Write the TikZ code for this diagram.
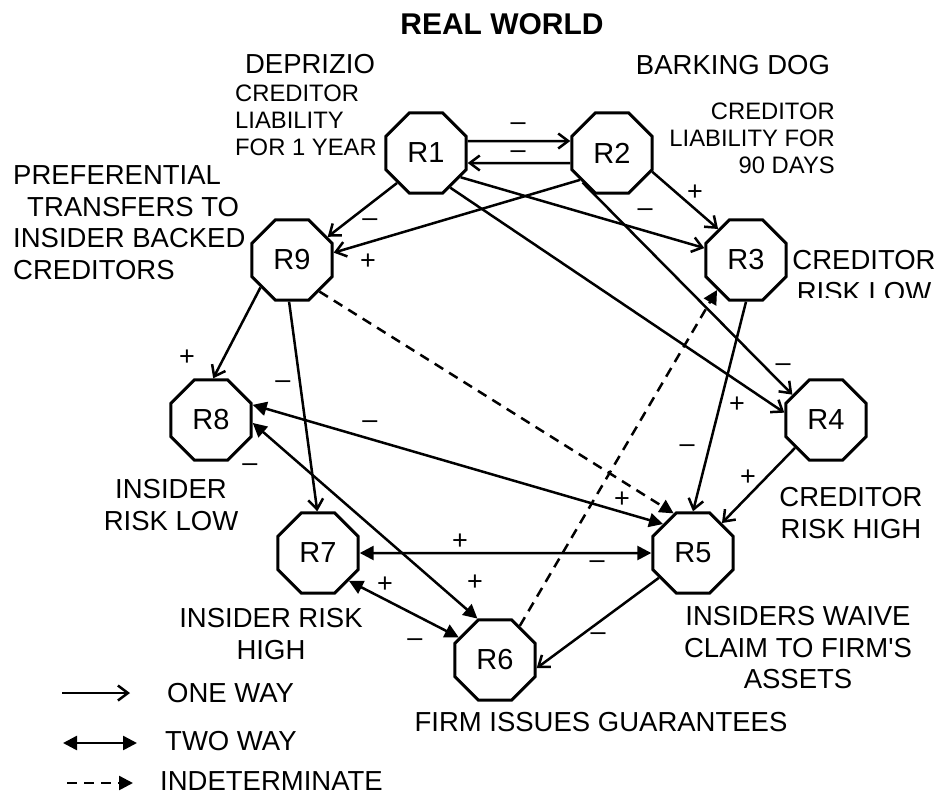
\documentclass[tikz,border=0pt]{standalone}
\usepackage{fontspec}
\setmainfont{Liberation Sans}
\usetikzlibrary{shapes.geometric,arrows.meta}
\begin{document}
\begin{tikzpicture}[x=1pt,y=-1pt,
  oct/.style={regular polygon,regular polygon sides=8,draw,line width=3pt,
    minimum size=87pt,inner sep=0pt,fill=white,font=\fontsize{29}{32}\selectfont},
  onew/.style={line width=2.5pt,-{Straight Barb[length=10pt,width=15pt]}},
  twow/.style={line width=2.5pt,{Triangle[length=14pt,width=14pt]}-{Triangle[length=14pt,width=14pt]}},
  indet/.style={line width=2.5pt,dash pattern=on 10pt off 7pt,-{Triangle[length=14pt,width=14pt]}},
  lbl/.style={font=\fontsize{27}{30}\selectfont,inner sep=0pt},
  big/.style={font=\fontsize{27.5}{31.5}\selectfont,inner sep=0pt},
  small/.style={font=\fontsize{23.8}{27}\selectfont,inner sep=0pt}
]
\useasboundingbox (0,0) rectangle (941,795);

% nodes
\node[oct] (R1) at (426,153) {R1};
\node[oct] (R2) at (612,153) {R2};
\node[oct] (R9) at (292,260) {R9};
\node[oct] (R3) at (746,260) {R3};
\node[oct] (R8) at (211,420) {R8};
\node[oct] (R4) at (826,420) {R4};
\node[oct] (R7) at (318,553) {R7};
\node[oct] (R5) at (693,553) {R5};
\node[oct] (R6) at (495,660) {R6};

% connectors
\draw[onew] ([yshift=12pt]R1.east) -- ([yshift=12pt]R2.west);
\draw[onew] ([yshift=-10pt]R2.west) -- ([yshift=-10pt]R1.east);
\draw[onew] (R1.226) -- (R9.33);
\draw[onew] (R2.220) -- (R9.10);
\draw[onew] (R1.-35) -- (R3.164);
\draw[onew] (R2.-25) -- (R3.132);
\draw[onew] (R1.-55) -- (R4.170);
\draw[onew] (R2.225) -- (R4.143);
\draw[onew] (R9.221) -- (R8.87);
\draw[onew] (R9.266) -- (R7.91);
\draw[indet] (R9.-49) -- (R5.116);
\draw[indet] (R6.54) -- (R3.226);
\draw[twow] (R8.20) -- (R5.136);
\draw[twow] (R8.-4) -- (R6.113);
\draw[twow] (R7.east) -- (R5.west);
\draw[twow] (R7.-42) -- (R6.148);
\draw[onew] (R5.216) -- (R6.-11);
\draw[onew] (R4.222) -- (R5.46);
\draw[onew] (R3.270) -- (R5.90);

% signs
\node[lbl] (s1) at (518,127) {\textendash};
\node[lbl] (s2) at (518,155) {\textendash};
\node[lbl] (s3) at (370,223) {\textendash};
\node[lbl] (s4) at (368,262) {+};
\node[lbl] (s5) at (645,213) {\textendash};
\node[lbl] (s6) at (695,193) {+};
\node[lbl] (s7) at (783,368) {\textendash};
\node[lbl] (s8) at (737,405) {+};
\node[lbl] (s9) at (687,449) {\textendash};
\node[lbl] (s10) at (748,478) {+};
\node[lbl] (s11) at (622,500) {+};
\node[lbl] (s12) at (187,358) {+};
\node[lbl] (s13) at (283,385) {\textendash};
\node[lbl] (s14) at (370,425) {\textendash};
\node[lbl] (s15) at (250,468) {\textendash};
\node[lbl] (s16) at (475,583) {+};
\node[lbl] (s17) at (460,542) {+};
\node[lbl] (s18) at (597,565) {\textendash};
\node[lbl] (s19) at (385,585) {+};
\node[lbl] (s20) at (415,643) {\textendash};
\node[lbl] (s21) at (598,637) {\textendash};

% texts
\node[font=\fontsize{30}{34}\selectfont\bfseries,inner sep=0pt] (title) at (502,24) {REAL WORLD};
\node[big] (dep) at (310,64) {DEPRIZIO};
\node[small,align=left,anchor=west] (depx) at (235,120.5) {CREDITOR\\LIABILITY\\FOR 1 YEAR};
\node[big] (bark) at (733,65) {BARKING DOG};
\node[small,align=right,anchor=east] (barkx) at (835,138.5) {CREDITOR\\LIABILITY FOR\\90 DAYS};
\node[big,align=left,anchor=west] (pref) at (13,222.5) {PREFERENTIAL\\\hspace*{14pt}TRANSFERS TO\\INSIDER BACKED\\CREDITORS};
\begin{scope}
\clip (770,235) rectangle (941,297);
\node[big,align=center] (crl) at (864,276) {CREDITOR\\RISK LOW};
\end{scope}
\node[big,align=center] (irl) at (171,505) {INSIDER\\RISK LOW};
\node[big,align=center] (crh) at (851,513) {CREDITOR\\RISK HIGH};
\node[big,align=center] (irh) at (271,634) {INSIDER RISK\\HIGH};
\node[big,align=center] (iwc) at (798,648) {INSIDERS WAIVE\\CLAIM TO FIRM\textquotesingle S\\ASSETS};
\node[big] (fig) at (601,722) {FIRM ISSUES GUARANTEES};

% legend
\coordinate (a1) at (62,693);
\coordinate (b1) at (130,693);
\coordinate (a2) at (63,743);
\coordinate (b2) at (137,743);
\coordinate (a3) at (67,783);
\coordinate (b3) at (133,783);
\draw[onew] (a1) -- (b1);
\draw[twow] (a2) -- (b2);
\draw[indet] (a3) -- (b3);
\node[big,anchor=west] (t1) at (167,693) {ONE WAY};
\node[big,anchor=west] (t2) at (165,741) {TWO WAY};
\node[big,anchor=west] (t3) at (160,781) {INDETERMINATE};
\end{tikzpicture}
\end{document}
